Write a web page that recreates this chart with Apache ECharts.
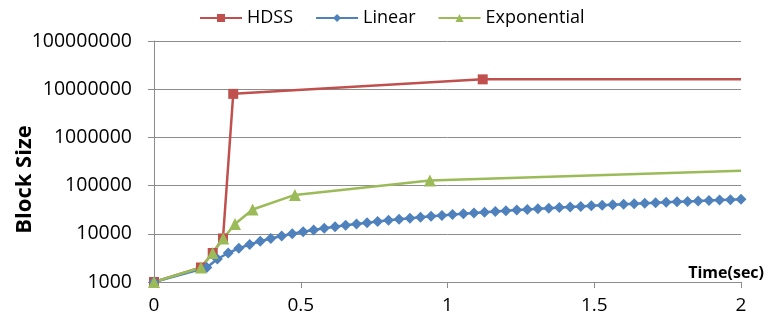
<!DOCTYPE html>
<html lang="en">
<head>
  <meta charset="UTF-8">
  <script src="https://cdn.jsdelivr.net/npm/echarts@6/dist/echarts.min.js"></script>
  <title>Block Size</title>
  <style>
    * { margin: 0; padding: 0; }
    html, body { width: 100%; height: 100%; background: #fff; }
    #chart { width: 769px; height: 322px; }
  </style>
</head>
<body>
<div id="chart"></div>
<script>
  // HDSS
  var hdssTime = [0, 0.16, 0.2, 0.235, 0.27, 1.12, 2];
  var hdssSize = [1000, 2000, 4000, 8000, 8000000, 16000000, 16000000];

  // Exponential
  var expTime = [0, 0.16, 0.2, 0.236, 0.276, 0.336, 0.48, 0.94, 2];
  var expSize = [1000, 2000, 4000, 8000, 16000, 32000, 64000, 128000, 204000];

  // Linear
  var linTime = [0, 0.18, 0.216, 0.253, 0.289, 0.326, 0.362, 0.398, 0.435, 0.471,
    0.508, 0.544, 0.58, 0.617, 0.653, 0.69, 0.726, 0.762, 0.799, 0.835,
    0.872, 0.908, 0.944, 0.981, 1.017, 1.054, 1.09, 1.126, 1.163, 1.199,
    1.236, 1.272, 1.308, 1.345, 1.381, 1.418, 1.454, 1.49, 1.527, 1.563,
    1.6, 1.636, 1.672, 1.709, 1.745, 1.782, 1.818, 1.854, 1.891, 1.927,
    1.964, 2.0];
  var linSize = [1000, 2000, 3000, 4000, 5000, 6000, 7000, 8000, 9000, 10000,
    11000, 12000, 13000, 14000, 15000, 16000, 17000, 18000, 19000, 20000,
    21000, 22000, 23000, 24000, 25000, 26000, 27000, 28000, 29000, 30000,
    31000, 32000, 33000, 34000, 35000, 36000, 37000, 38000, 39000, 40000,
    41000, 42000, 43000, 44000, 45000, 46000, 47000, 48000, 49000, 50000,
    51000, 52000];

  var seriesNames = ['HDSS', 'Linear', 'Exponential'];
  var colors = ['#C0504D', '#4F81BD', '#9BBB59'];
  var font = 'Open Sans';

  function pairs(xs, ys, hideLast) {
    return xs.map(function (x, i) {
      var item = { value: [x, ys[i]] };
      if (hideLast && i === xs.length - 1) item.symbolSize = 0;
      return item;
    });
  }

  var myChart = echarts.init(document.getElementById('chart'));
  var option = {
    animation: false,
    color: colors,
    grid: { left: 154, right: 28, top: 41, bottom: 40, outerBoundsMode: 'none' },
    legend: {
      top: 4,
      left: 194,
      itemWidth: 42,
      itemHeight: 10,
      itemGap: 22,
      textStyle: { fontFamily: font, fontSize: 18, color: '#000' },
      data: seriesNames
    },
    xAxis: {
      type: 'value',
      min: 0,
      max: 2,
      interval: 0.5,
      name: 'Time(sec)',
      nameLocation: 'end',
      nameGap: 23,
      nameMoveOverlap: false,
      nameTextStyle: {
        fontFamily: font, fontSize: 16, fontWeight: 'bold', color: '#000',
        align: 'right', verticalAlign: 'bottom', padding: [0, 0, 1, 0]
      },
      axisLine: { lineStyle: { color: '#8c8c8c', width: 1 } },
      axisTick: { show: true, length: 6, lineStyle: { color: '#8c8c8c' } },
      axisLabel: { fontFamily: font, fontSize: 19, color: '#000', margin: 14 },
      splitLine: { show: false }
    },
    yAxis: {
      type: 'log',
      logBase: 10,
      min: 1000,
      max: 100000000,
      name: 'Block Size',
      nameLocation: 'middle',
      nameGap: 118,
      nameMoveOverlap: false,
      nameTextStyle: {
        fontFamily: font, fontSize: 22, fontWeight: 'bold', color: '#000',
        padding: [0, 36, 0, 0]
      },
      axisLine: { show: true, lineStyle: { color: '#8c8c8c', width: 1 } },
      axisTick: { show: true, length: 6, lineStyle: { color: '#8c8c8c' } },
      axisLabel: {
        fontFamily: font, fontSize: 19.5, color: '#000', margin: 22,
        formatter: function (v) { return String(Math.round(v)); }
      },
      splitLine: { show: true, lineStyle: { color: '#8c8c8c', width: 1 } }
    },
    series: [
      {
        name: 'HDSS',
        type: 'line',
        symbol: 'rect',
        symbolSize: 10,
        lineStyle: { width: 2.5 },
        data: pairs(hdssTime, hdssSize, true)
      },
      {
        name: 'Linear',
        type: 'line',
        symbol: 'diamond',
        symbolSize: 11,
        lineStyle: { width: 2.5 },
        data: pairs(linTime, linSize, false)
      },
      {
        name: 'Exponential',
        type: 'line',
        symbol: 'triangle',
        symbolSize: 12,
        lineStyle: { width: 2.5 },
        data: pairs(expTime, expSize, true)
      }
    ]
  };
  myChart.setOption(option);
</script>
</body>
</html>
